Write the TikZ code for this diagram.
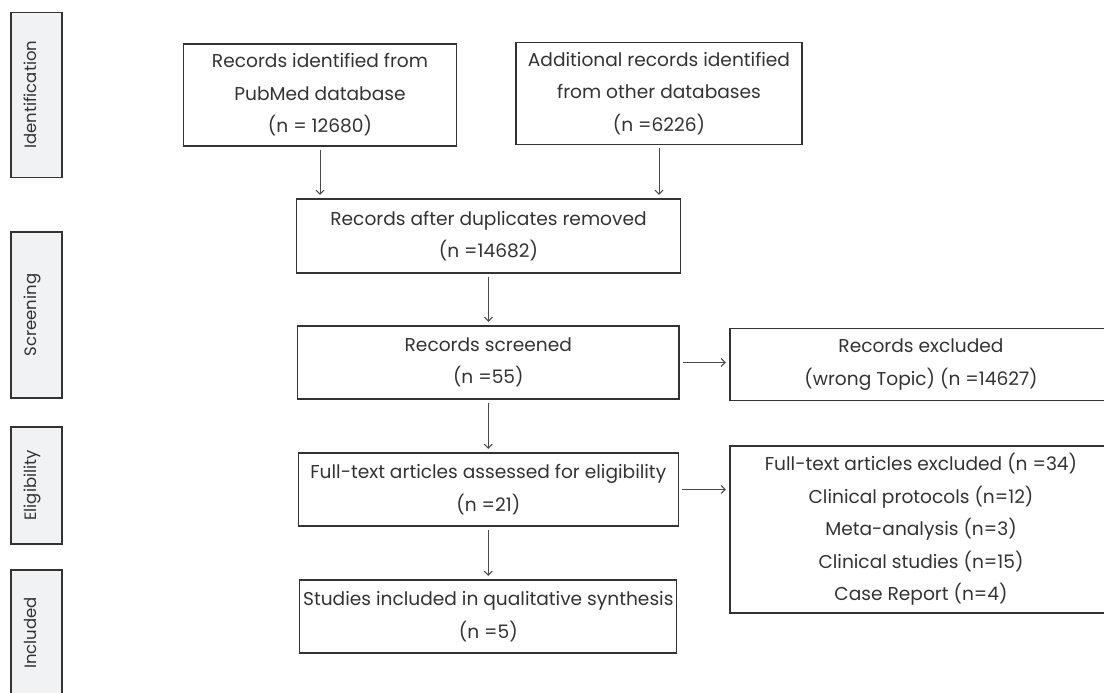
\documentclass[tikz,border=0pt]{standalone}
\usepackage{fontspec}
\setmainfont{Poppins}
\usetikzlibrary{arrows.meta}
\definecolor{ink}{HTML}{333333}
\definecolor{arr}{HTML}{4A4A4A}
\definecolor{sidefill}{HTML}{F1F2F4}
\begin{document}
\begin{tikzpicture}[x=1pt,y=-1pt,
  box/.style={draw=ink, line width=1.3pt, inner sep=0pt, align=center, text=ink,
    font=\fontsize{18.6}{32.5}\selectfont},
  sidebox/.style={draw=ink, fill=sidefill, line width=1.2pt, inner sep=0pt, rotate=90,
    minimum height=51pt, text height=10pt, text depth=10pt, text=ink,
    font=\fontsize{16.5}{20}\selectfont},
  arrow/.style={draw=arr, line width=1pt, -{Straight Barb[length=4pt,width=8pt]},
    shorten <=3pt, shorten >=3.5pt}]
\useasboundingbox (0,0) rectangle (1104,693);
\clip (0,0) rectangle (1104,693);
% stage labels
\node[sidebox, minimum width=165pt] (sid) at (36.5,94.7) {Identification};
\node[sidebox, minimum width=166pt] (sscr) at (36.5,315) {Screening};
\node[sidebox, minimum width=117pt] (selig) at (36.5,485.5) {Eligibility};
\node[sidebox, minimum width=126pt] (sinc) at (36.5,633) {Included};
% boxes
\node[box, minimum width=273pt, minimum height=102pt] (pub) at (320,95)
  {Records identified from\\PubMed database\\(n = 12680)};
\node[box, minimum width=286pt, minimum height=102pt] (add) at (659,93.5)
  {Additional records identified\\from other databases\\(n =6226)};
\node[box, minimum width=384.5pt, minimum height=74pt] (dup) at (488.5,236)
  {Records after duplicates removed\\(n =14682)};
\node[box, minimum width=381.5pt, minimum height=73pt] (scr) at (488.3,362.5)
  {Records screened\\(n =55)};
\node[box, minimum width=382pt, minimum height=72pt] (exc) at (921,364.5)
  {Records excluded\\(wrong Topic) (n =14627)};
\node[box, minimum width=380pt, minimum height=73pt] (ft) at (488.3,489.5)
  {Full-text articles assessed for eligibility\\(n =21)};
\node[box, minimum width=382pt, minimum height=167pt] (fte) at (921,529.5)
  {Full-text articles excluded (n =34)\\Clinical protocols (n=12)\\Meta-analysis (n=3)\\Clinical studies (n=15)\\Case Report (n=4)};
\node[box, minimum width=377pt, minimum height=73pt] (stu) at (488.3,616.5)
  {Studies included in qualitative synthesis\\(n =5)};
% arrows
\draw[arrow] (pub.south) -- (pub.south |- dup.north);
\draw[arrow] (add.south) -- (add.south |- dup.north);
\draw[arrow] (dup.south) -- (dup.south |- scr.north);
\draw[arrow] (scr.south) -- (scr.south |- ft.north);
\draw[arrow] (ft.south) -- (ft.south |- stu.north);
\draw[arrow] (scr.east) -- (scr.east -| exc.west);
\draw[arrow] (ft.east) -- (ft.east -| fte.west);
\end{tikzpicture}
\end{document}
